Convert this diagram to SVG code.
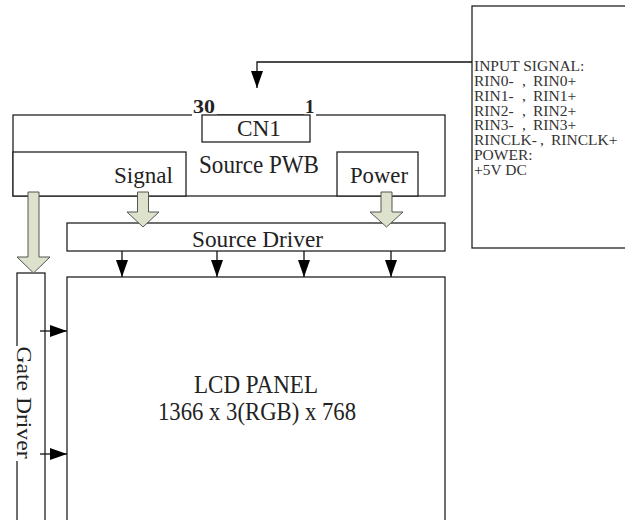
<svg xmlns="http://www.w3.org/2000/svg" width="625" height="520" viewBox="0 0 625 520">
<style>
.box{fill:#fff;stroke:#222;stroke-width:1.3}
.t{font-family:"Liberation Serif","Times New Roman",serif;fill:#222}
.c{text-anchor:middle}
.blk{fill:#dde2cc;stroke:#555;stroke-width:1}
.ln{fill:none;stroke:#111;stroke-width:1.3}
.in{font-family:"Liberation Serif","Times New Roman",serif;font-size:15.5px;fill:#333}
</style>
<defs>
<marker id="ah" viewBox="0 0 17 12" refX="17" refY="6" markerWidth="17" markerHeight="12" markerUnits="userSpaceOnUse" orient="auto">
<path d="M0,0 L17,6 L0,12 z" fill="#000"/>
</marker>
</defs>
<rect width="625" height="520" fill="#fff"/>

<g id="input">
<rect class="box" x="472" y="6" width="156" height="242"/>
<text class="in" x="474" y="71">INPUT SIGNAL:</text>
<text class="in" x="474" y="86">RIN0-<tspan x="522">,</tspan><tspan x="533">RIN0+</tspan></text>
<text class="in" x="474" y="101">RIN1-<tspan x="522">,</tspan><tspan x="533">RIN1+</tspan></text>
<text class="in" x="474" y="116">RIN2-<tspan x="522">,</tspan><tspan x="533">RIN2+</tspan></text>
<text class="in" x="474" y="130">RIN3-<tspan x="522">,</tspan><tspan x="533">RIN3+</tspan></text>
<text class="in" x="474" y="145">RINCLK-<tspan x="540">,</tspan><tspan x="551">RINCLK+</tspan></text>
<text class="in" x="474" y="160">POWER:</text>
<text class="in" x="474" y="175">+5V DC</text>
</g>

<g id="source-pwb">
<rect class="box" x="13" y="115" width="432" height="81"/>
<rect x="192" y="111" width="25" height="6" fill="#fff"/>
<rect x="304" y="111" width="12" height="6" fill="#fff"/>
<text class="t" x="193" y="113" font-size="19" font-weight="bold" textLength="22" lengthAdjust="spacingAndGlyphs">30</text>
<text class="t" x="305" y="113" font-size="19" font-weight="bold">1</text>
<text class="t c" x="259" y="172.5" font-size="25" textLength="120" lengthAdjust="spacingAndGlyphs">Source PWB</text>
</g>

<g id="cn1">
<rect class="box" x="202" y="115" width="108" height="27"/>
<text class="t c" x="259" y="136" font-size="24" textLength="44" lengthAdjust="spacingAndGlyphs">CN1</text>
</g>

<g id="signal">
<rect class="box" x="13" y="152" width="173" height="44"/>
<text class="t" x="114" y="183" font-size="24" textLength="59" lengthAdjust="spacingAndGlyphs">Signal</text>
</g>

<g id="power">
<rect class="box" x="337" y="152" width="81" height="44"/>
<text class="t" x="350" y="183" font-size="24" textLength="58" lengthAdjust="spacingAndGlyphs">Power</text>
</g>

<g id="source-driver">
<rect class="box" x="67" y="223" width="378" height="28"/>
<text class="t c" x="257.5" y="247" font-size="23" textLength="131" lengthAdjust="spacingAndGlyphs">Source Driver</text>
</g>

<g id="gate-driver">
<rect class="box" x="17" y="273" width="28" height="250"/>
<rect x="15" y="346" width="4" height="115" fill="#fff"/>
<text class="t c" transform="translate(16.5,402.5) rotate(90)" x="0" y="0" font-size="21" textLength="112" lengthAdjust="spacingAndGlyphs">Gate Driver</text>
</g>

<g id="lcd-panel">
<rect class="box" x="67" y="277" width="378" height="260"/>
<text class="t c" x="256" y="393" font-size="26" textLength="124" lengthAdjust="spacingAndGlyphs">LCD PANEL</text>
<text class="t c" x="257" y="420" font-size="26" textLength="198" lengthAdjust="spacingAndGlyphs">1366 x 3(RGB) x 768</text>
</g>

<g id="connectors">
<path class="ln" d="M472,62 H257 V88" marker-end="url(#ah)"/>
<path class="blk" d="M137.5,192 H148.5 V212 H159 L143,227 L127,212 H137.5 Z"/>
<path class="blk" d="M381,192 H392 V212 H403 L386.5,227 L370,212 H381 Z"/>
<path class="blk" d="M28,192 H39 V257 H50 L33.5,273 L17,257 H28 Z"/>
<line class="ln" x1="122" y1="251" x2="122" y2="277" marker-end="url(#ah)"/>
<line class="ln" x1="217" y1="251" x2="217" y2="277" marker-end="url(#ah)"/>
<line class="ln" x1="304" y1="251" x2="304" y2="277" marker-end="url(#ah)"/>
<line class="ln" x1="391" y1="251" x2="391" y2="277" marker-end="url(#ah)"/>
<line class="ln" x1="40" y1="331" x2="67" y2="331" marker-end="url(#ah)"/>
<line class="ln" x1="40" y1="454" x2="67" y2="454" marker-end="url(#ah)"/>
</g>
</svg>
